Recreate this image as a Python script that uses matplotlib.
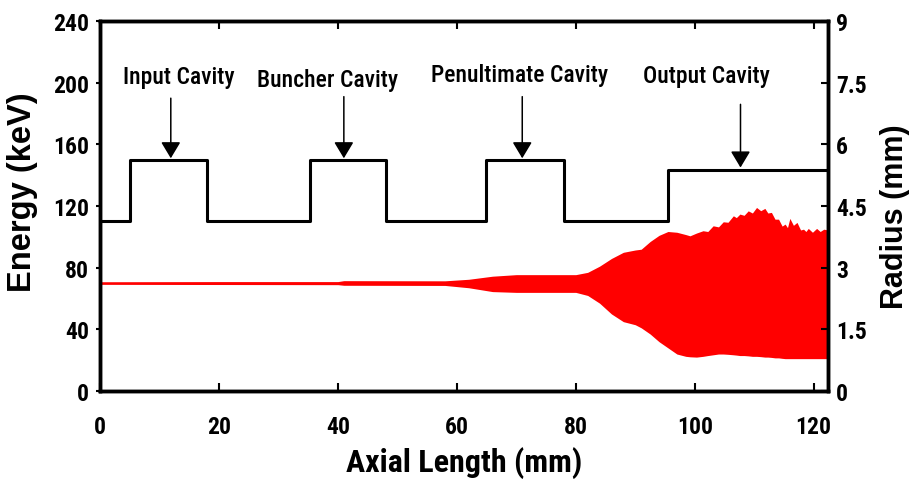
import numpy as np
import matplotlib
matplotlib.use("Agg")
import matplotlib.pyplot as plt

# condensed bold face for ticks / annotations, Arial-like for the y labels
plt.rcParams['font.family'] = ['Roboto Condensed', 'Liberation Sans', 'DejaVu Sans']
WIDE = ['Liberation Sans', 'DejaVu Sans']

# energy envelope of the beam (keV) vs axial length (mm)
z_env = [0, 20, 40, 41, 58, 62, 66, 70, 75, 80, 82, 84, 86, 88, 90, 91, 92.5, 94, 95.5,
         97, 98.5, 99.2, 100.3, 101.4, 102.2, 103.1, 104.0, 104.8, 105.6, 106.5, 107.0,
         107.6, 108.3, 109.0, 109.7, 110.4, 111.1, 111.8, 112.3, 112.9, 113.5, 114.1,
         114.7, 115.2, 115.6, 116.0, 116.6, 117.2, 117.8, 118.3, 118.7, 119.1, 119.8,
         120.5, 121.1, 121.7, 122.4]
e_upper = [70.9, 71.0, 71.0, 71.6, 71.5, 72.5, 74.5, 75.5, 75.5, 75.5, 77, 81, 86, 90, 91.5,
           92, 97, 101, 103.5, 103, 101.5, 100.7, 102.5, 104, 103.5, 107.2, 106.5, 109.8,
           109.5, 113.7, 112.5, 114.8, 114.0, 116.9, 115.5, 119.1, 117.0, 118.5, 115.5,
           115.9, 111.5, 111.5, 107.0, 108.3, 106.0, 112.0, 107.5, 109.4, 104.5, 105.0,
           103.5, 105.5, 103.0, 105.5, 103.5, 105.0, 104.5]
e_lower = [69.2, 69.1, 69.0, 68.6, 68.5, 67, 64.5, 64, 64, 64, 62, 57, 50, 45, 43, 41, 37,
           32, 28, 24, 22.5, 22.2, 22, 22.5, 23, 23.5, 24, 24, 23.8, 23.5, 23.3, 23, 23,
           22.8, 22.5, 22.5, 22.3, 22, 22, 21.8, 21.5, 21.5, 21.2, 21, 21, 21, 21, 21, 21,
           21, 21, 21, 21, 21, 21, 21, 21]

# radius profile (mm): step edges
z_step = [0, 5.0, 5.0, 18.0, 18.0, 35.3, 35.3, 48.1, 48.1, 64.9, 64.9, 78.0, 78.0, 95.5, 95.5, 122.4]
r_step = [4.13, 4.13, 5.63, 5.63, 4.13, 4.13, 5.63, 5.63, 4.13, 4.13, 5.63, 5.63, 4.13, 4.13, 5.38, 5.38]

# cavity annotations
cav_names = ['Input Cavity', 'Buncher Cavity', 'Penultimate Cavity', 'Output Cavity']
cav_text_x = [13.2, 38.3, 70.5, 102.0]
cav_text_y = [204, 202, 205.5, 205]
arrow_x = [11.9, 41.0, 71.0, 107.7]
arrow_top = [190, 191, 191, 186]
arrow_tip = [151, 151, 151, 145]

fig = plt.figure(figsize=(9.11, 4.81), dpi=100)
ax = fig.add_axes([0.1098, 0.185, 0.799, 0.769])

ax.fill_between(z_env, e_lower, e_upper, color='#ff0000', lw=0)

for name, tx, ty in zip(cav_names, cav_text_x, cav_text_y):
    ax.text(tx, ty, name, ha='center', va='center', fontsize=17, fontweight='medium')
for x, y0, y1 in zip(arrow_x, arrow_top, arrow_tip):
    ax.annotate('', xy=(x, y1), xytext=(x, y0),
                arrowprops=dict(arrowstyle='-|>,head_length=1.0,head_width=0.6',
                                color='black', lw=1.1, shrinkA=0, shrinkB=0))

ax.set_xlim(0, 122.4)
ax.set_ylim(0, 240)
ax.set_xticks(np.arange(0, 121, 20))
ax.set_yticks(np.arange(0, 241, 40))
ax.tick_params(axis='x', direction='in', top=True, length=6, width=1.5, labelsize=17, pad=17)
ax.tick_params(axis='y', direction='out', length=3, width=1.5, labelsize=17, pad=5)
for lab in ax.get_xticklabels() + ax.get_yticklabels():
    lab.set_fontweight('bold')
ax.set_xlabel('Axial Length (mm)', fontsize=23, fontweight='bold', labelpad=6)
ax.set_ylabel('Energy (keV)', fontsize=23.5, fontweight='bold', family=WIDE)
ax.yaxis.set_label_coords(-0.085, 0.539)

ax2 = ax.twinx()
ax2.plot(z_step, r_step, color='black', lw=2.2)
ax2.set_ylim(0, 9)
ax2.set_yticks([0, 1.5, 3, 4.5, 6, 7.5, 9])
ax2.set_yticklabels(['0', '1.5', '3', '4.5', '6', '7.5', '9'])
ax2.tick_params(axis='y', direction='in', length=5, width=1.5, labelsize=17, pad=6)
for lab in ax2.get_yticklabels():
    lab.set_fontweight('bold')
ax2.set_ylabel('Radius (mm)', fontsize=22, fontweight='bold', family=WIDE)
ax2.yaxis.set_label_coords(1.071, 0.474)

for a in (ax, ax2):
    for s in a.spines.values():
        s.set_linewidth(2.5)

fig.savefig('out.png', dpi=100)
